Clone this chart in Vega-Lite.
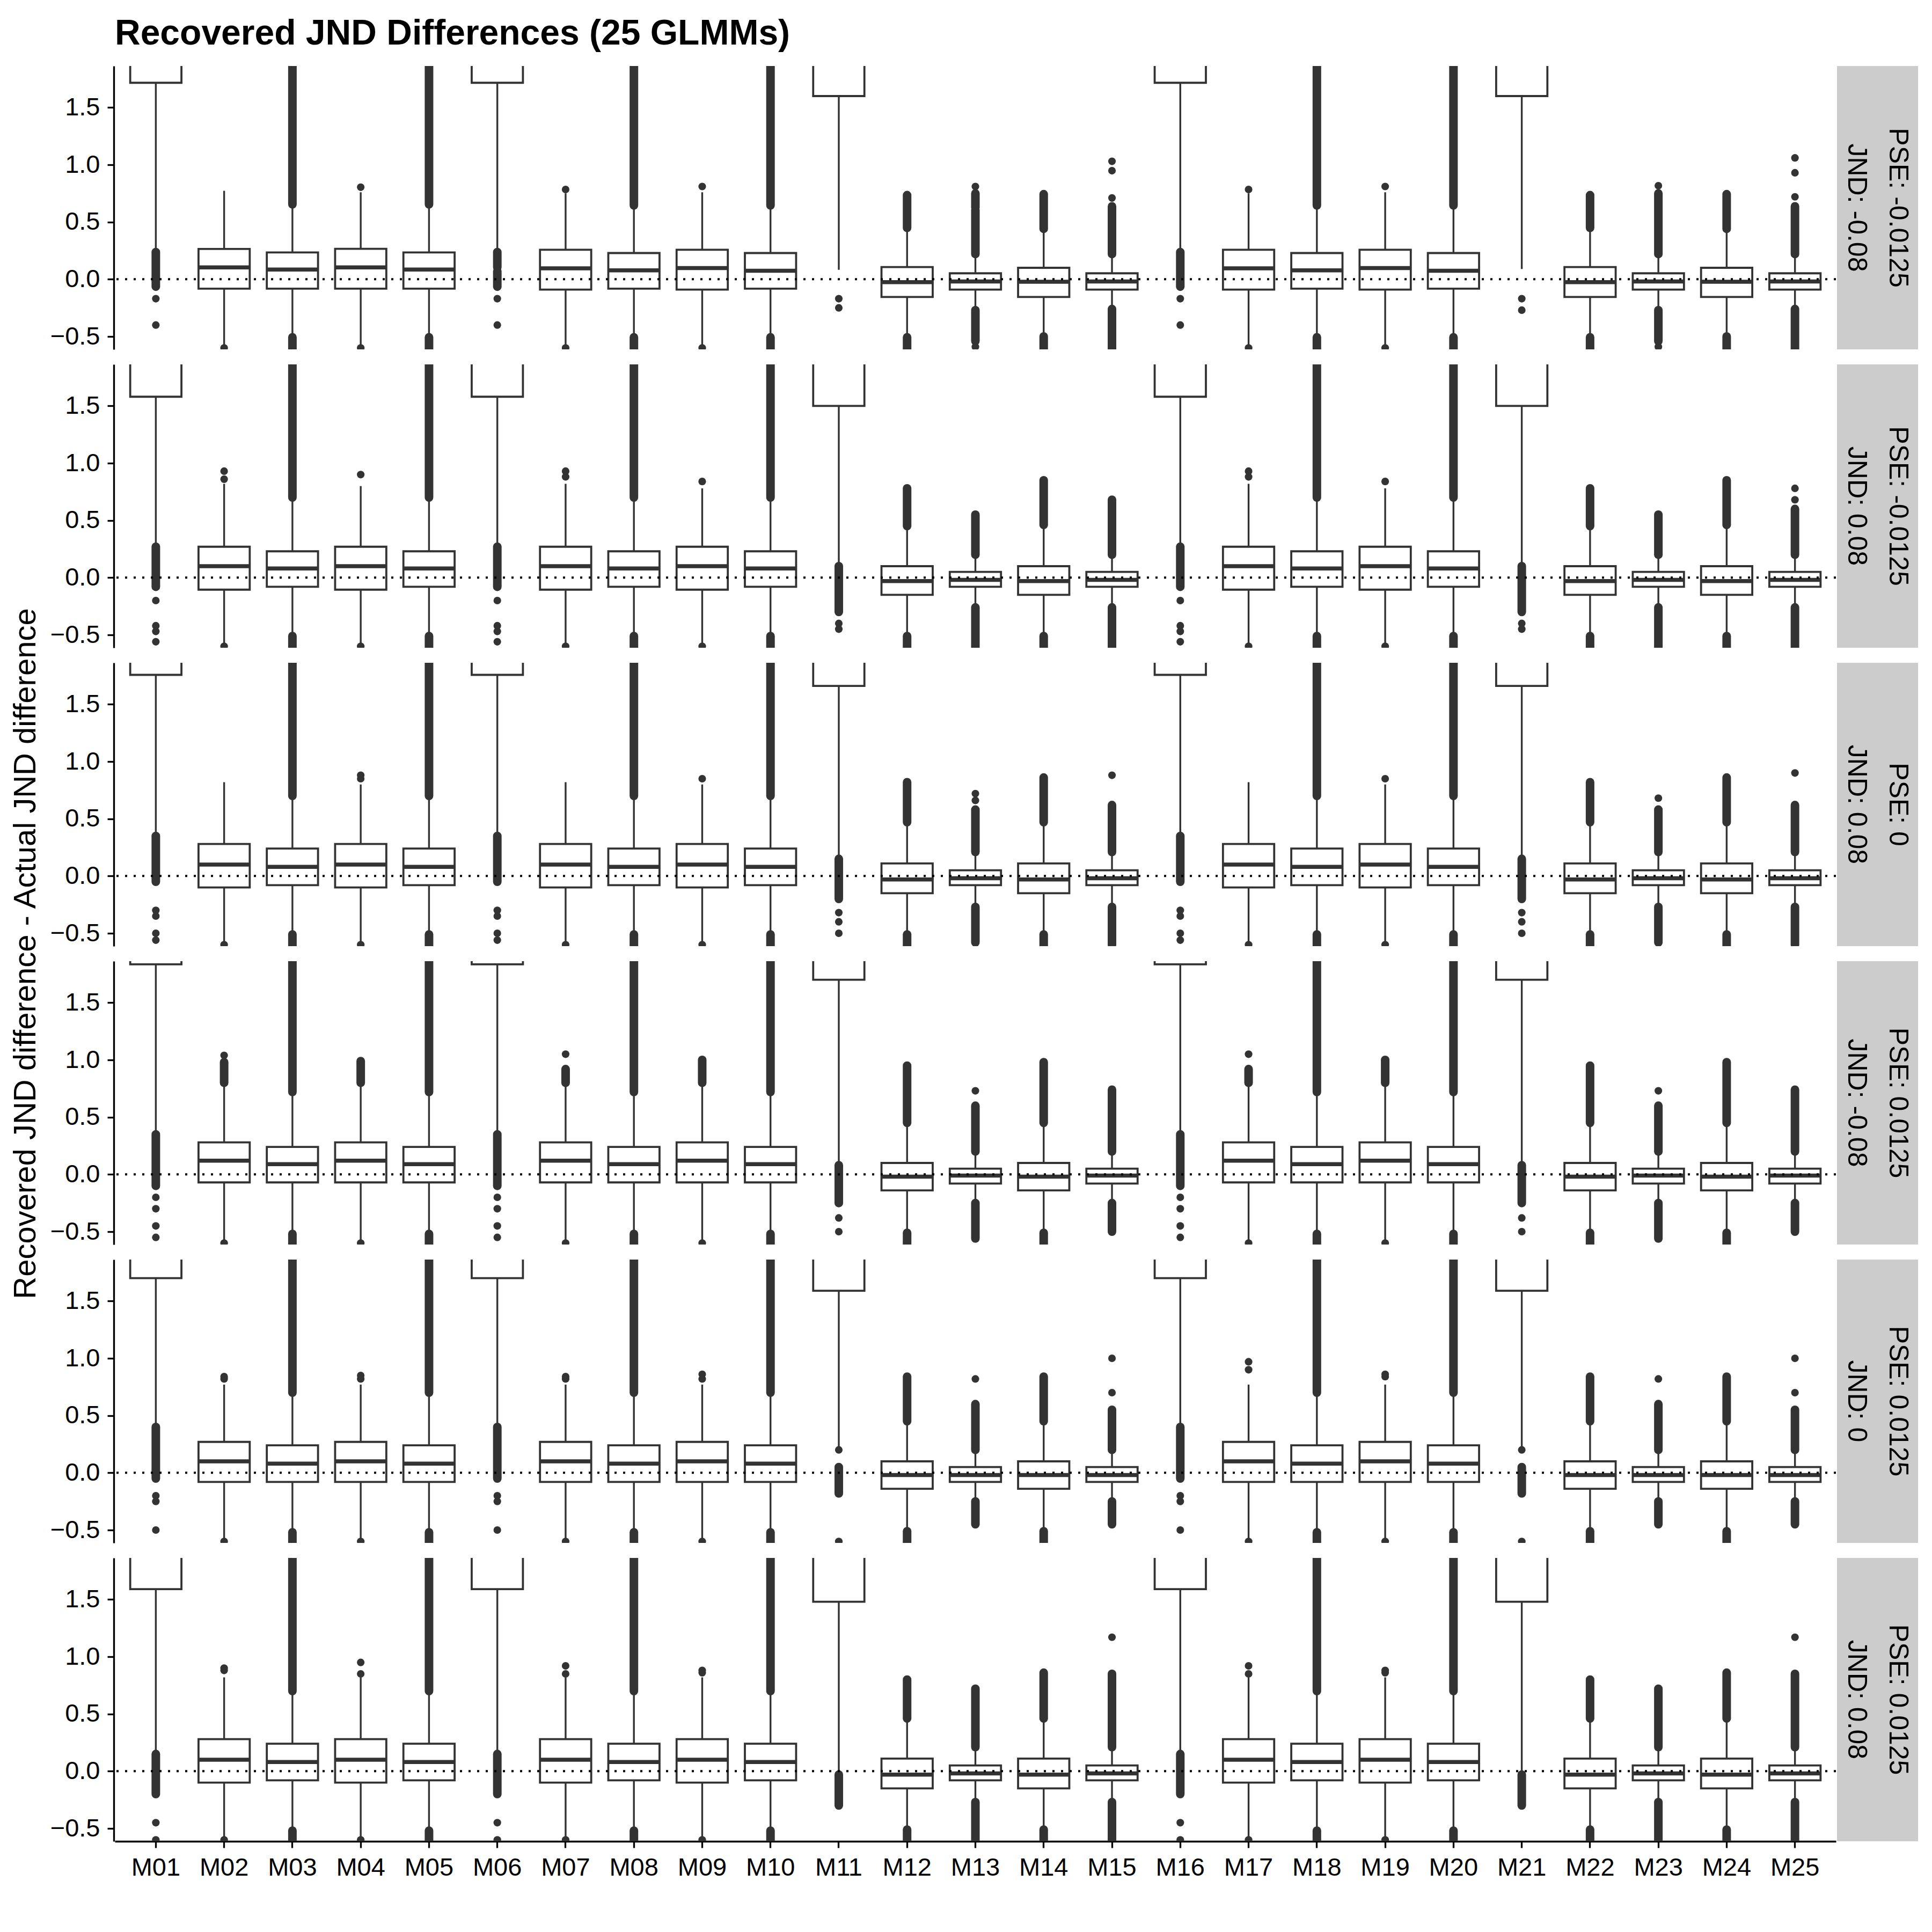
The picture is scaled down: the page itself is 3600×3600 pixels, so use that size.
{
"$schema": "https://vega.github.io/schema/vega-lite/v6.json",
"autosize": {"type": "pad"},
"padding": {"left": 19, "top": 30, "right": 31, "bottom": 10},
"background": "white",
"title": {"text": "Recovered JND Differences (25 GLMMs)", "anchor": "start", "frame": "group", "fontSize": 66, "fontWeight": "bold", "font": "Liberation Sans", "color": "black", "offset": 26},
"data": {"values": [
{"p":1,"m":"M01","k":"b","lo":0.24,"q1":1.716,"md":2.3,"q3":2.7,"hi":4,"lab":"PSE: -0.0125|JND: -0.08"},
{"p":1,"m":"M02","k":"b","lo":-0.57,"q1":-0.082,"md":0.103,"q3":0.265,"hi":0.773},
{"p":1,"m":"M03","k":"b","lo":-0.507,"q1":-0.082,"md":0.085,"q3":0.234,"hi":0.654},
{"p":1,"m":"M04","k":"b","lo":-0.57,"q1":-0.082,"md":0.103,"q3":0.266,"hi":0.76},
{"p":1,"m":"M05","k":"b","lo":-0.507,"q1":-0.082,"md":0.085,"q3":0.234,"hi":0.654},
{"p":1,"m":"M06","k":"b","lo":0.24,"q1":1.716,"md":2.3,"q3":2.7,"hi":4},
{"p":1,"m":"M07","k":"b","lo":-0.57,"q1":-0.09,"md":0.095,"q3":0.258,"hi":0.75},
{"p":1,"m":"M08","k":"b","lo":-0.507,"q1":-0.082,"md":0.078,"q3":0.229,"hi":0.645},
{"p":1,"m":"M09","k":"b","lo":-0.57,"q1":-0.09,"md":0.098,"q3":0.258,"hi":0.76},
{"p":1,"m":"M10","k":"b","lo":-0.507,"q1":-0.082,"md":0.074,"q3":0.229,"hi":0.645},
{"p":1,"m":"M11","k":"b","lo":0.082,"q1":1.6,"md":2.3,"q3":2.7,"hi":4},
{"p":1,"m":"M12","k":"b","lo":-0.507,"q1":-0.155,"md":-0.025,"q3":0.106,"hi":0.449},
{"p":1,"m":"M13","k":"b","lo":-0.27,"q1":-0.09,"md":-0.02,"q3":0.052,"hi":0.22},
{"p":1,"m":"M14","k":"b","lo":-0.5,"q1":-0.155,"md":-0.022,"q3":0.1,"hi":0.44},
{"p":1,"m":"M15","k":"b","lo":-0.26,"q1":-0.09,"md":-0.02,"q3":0.052,"hi":0.22},
{"p":1,"m":"M16","k":"b","lo":0.24,"q1":1.716,"md":2.3,"q3":2.7,"hi":4},
{"p":1,"m":"M17","k":"b","lo":-0.57,"q1":-0.09,"md":0.095,"q3":0.258,"hi":0.75},
{"p":1,"m":"M18","k":"b","lo":-0.507,"q1":-0.082,"md":0.078,"q3":0.229,"hi":0.645},
{"p":1,"m":"M19","k":"b","lo":-0.57,"q1":-0.09,"md":0.098,"q3":0.258,"hi":0.76},
{"p":1,"m":"M20","k":"b","lo":-0.507,"q1":-0.082,"md":0.074,"q3":0.229,"hi":0.645},
{"p":1,"m":"M21","k":"b","lo":0.09,"q1":1.6,"md":2.3,"q3":2.7,"hi":4},
{"p":1,"m":"M22","k":"b","lo":-0.507,"q1":-0.155,"md":-0.025,"q3":0.106,"hi":0.449},
{"p":1,"m":"M23","k":"b","lo":-0.27,"q1":-0.09,"md":-0.02,"q3":0.052,"hi":0.22},
{"p":1,"m":"M24","k":"b","lo":-0.5,"q1":-0.155,"md":-0.022,"q3":0.1,"hi":0.44},
{"p":1,"m":"M25","k":"b","lo":-0.26,"q1":-0.09,"md":-0.02,"q3":0.052,"hi":0.22},
{"p":1,"m":"M01","k":"s","a":0.237,"b":-0.065},
{"p":1,"m":"M03","k":"s","a":0.654,"b":2},
{"p":1,"m":"M03","k":"s","a":-0.507,"b":-0.7},
{"p":1,"m":"M05","k":"s","a":0.654,"b":2},
{"p":1,"m":"M05","k":"s","a":-0.507,"b":-0.7},
{"p":1,"m":"M06","k":"s","a":0.237,"b":0.105},
{"p":1,"m":"M06","k":"s","a":0.07,"b":-0.065},
{"p":1,"m":"M08","k":"s","a":0.645,"b":2},
{"p":1,"m":"M08","k":"s","a":-0.507,"b":-0.7},
{"p":1,"m":"M10","k":"s","a":0.645,"b":2},
{"p":1,"m":"M10","k":"s","a":-0.507,"b":-0.7},
{"p":1,"m":"M12","k":"s","a":0.449,"b":0.735},
{"p":1,"m":"M12","k":"s","a":-0.507,"b":-0.7},
{"p":1,"m":"M13","k":"s","a":0.22,"b":0.605},
{"p":1,"m":"M13","k":"s","a":0.625,"b":0.75},
{"p":1,"m":"M13","k":"s","a":-0.27,"b":-0.54},
{"p":1,"m":"M14","k":"s","a":0.44,"b":0.743},
{"p":1,"m":"M14","k":"s","a":-0.5,"b":-0.7},
{"p":1,"m":"M15","k":"s","a":0.22,"b":0.637},
{"p":1,"m":"M15","k":"s","a":-0.26,"b":-0.7},
{"p":1,"m":"M16","k":"s","a":0.237,"b":-0.065},
{"p":1,"m":"M18","k":"s","a":0.645,"b":2},
{"p":1,"m":"M18","k":"s","a":-0.507,"b":-0.7},
{"p":1,"m":"M20","k":"s","a":0.645,"b":2},
{"p":1,"m":"M20","k":"s","a":-0.507,"b":-0.7},
{"p":1,"m":"M22","k":"s","a":0.449,"b":0.735},
{"p":1,"m":"M22","k":"s","a":-0.507,"b":-0.7},
{"p":1,"m":"M23","k":"s","a":0.22,"b":0.75},
{"p":1,"m":"M23","k":"s","a":-0.27,"b":-0.54},
{"p":1,"m":"M24","k":"s","a":0.44,"b":0.743},
{"p":1,"m":"M24","k":"s","a":-0.5,"b":-0.7},
{"p":1,"m":"M25","k":"s","a":0.22,"b":0.637},
{"p":1,"m":"M25","k":"s","a":-0.26,"b":-0.7},
{"p":1,"m":"M01","k":"d","v":-0.17},{"p":1,"m":"M01","k":"d","v":-0.4},
{"p":1,"m":"M02","k":"d","v":-0.6},
{"p":1,"m":"M04","k":"d","v":0.804},{"p":1,"m":"M04","k":"d","v":-0.6},
{"p":1,"m":"M06","k":"d","v":-0.17},{"p":1,"m":"M06","k":"d","v":-0.4},
{"p":1,"m":"M07","k":"d","v":0.784},{"p":1,"m":"M07","k":"d","v":-0.6},
{"p":1,"m":"M09","k":"d","v":0.81},{"p":1,"m":"M09","k":"d","v":-0.6},
{"p":1,"m":"M11","k":"d","v":-0.17},{"p":1,"m":"M11","k":"d","v":-0.25},
{"p":1,"m":"M13","k":"d","v":0.81},{"p":1,"m":"M13","k":"d","v":-0.59},
{"p":1,"m":"M15","k":"d","v":0.71},{"p":1,"m":"M15","k":"d","v":0.948},{"p":1,"m":"M15","k":"d","v":1.03},
{"p":1,"m":"M16","k":"d","v":-0.17},{"p":1,"m":"M16","k":"d","v":-0.4},
{"p":1,"m":"M17","k":"d","v":0.784},{"p":1,"m":"M17","k":"d","v":-0.6},
{"p":1,"m":"M19","k":"d","v":0.81},{"p":1,"m":"M19","k":"d","v":-0.6},
{"p":1,"m":"M21","k":"d","v":-0.17},{"p":1,"m":"M21","k":"d","v":-0.27},
{"p":1,"m":"M23","k":"d","v":0.817},{"p":1,"m":"M23","k":"d","v":-0.59},
{"p":1,"m":"M25","k":"d","v":0.72},{"p":1,"m":"M25","k":"d","v":0.93},{"p":1,"m":"M25","k":"d","v":1.06},

{"p":2,"m":"M01","k":"b","lo":0.27,"q1":1.58,"md":2.3,"q3":2.7,"hi":4,"lab":"PSE: -0.0125|JND: 0.08"},
{"p":2,"m":"M02","k":"b","lo":-0.57,"q1":-0.105,"md":0.1,"q3":0.27,"hi":0.82},
{"p":2,"m":"M03","k":"b","lo":-0.51,"q1":-0.08,"md":0.08,"q3":0.23,"hi":0.7},
{"p":2,"m":"M04","k":"b","lo":-0.57,"q1":-0.105,"md":0.1,"q3":0.27,"hi":0.8},
{"p":2,"m":"M05","k":"b","lo":-0.51,"q1":-0.08,"md":0.08,"q3":0.23,"hi":0.7},
{"p":2,"m":"M06","k":"b","lo":0.27,"q1":1.58,"md":2.3,"q3":2.7,"hi":4},
{"p":2,"m":"M07","k":"b","lo":-0.57,"q1":-0.105,"md":0.1,"q3":0.27,"hi":0.82},
{"p":2,"m":"M08","k":"b","lo":-0.51,"q1":-0.08,"md":0.08,"q3":0.23,"hi":0.7},
{"p":2,"m":"M09","k":"b","lo":-0.57,"q1":-0.105,"md":0.1,"q3":0.27,"hi":0.78},
{"p":2,"m":"M10","k":"b","lo":-0.51,"q1":-0.08,"md":0.08,"q3":0.23,"hi":0.7},
{"p":2,"m":"M11","k":"b","lo":0.1,"q1":1.5,"md":2.3,"q3":2.7,"hi":4},
{"p":2,"m":"M12","k":"b","lo":-0.51,"q1":-0.15,"md":-0.03,"q3":0.1,"hi":0.45},
{"p":2,"m":"M13","k":"b","lo":-0.26,"q1":-0.08,"md":-0.02,"q3":0.05,"hi":0.2},
{"p":2,"m":"M14","k":"b","lo":-0.51,"q1":-0.15,"md":-0.03,"q3":0.1,"hi":0.46},
{"p":2,"m":"M15","k":"b","lo":-0.26,"q1":-0.08,"md":-0.02,"q3":0.05,"hi":0.2},
{"p":2,"m":"M16","k":"b","lo":0.27,"q1":1.58,"md":2.3,"q3":2.7,"hi":4},
{"p":2,"m":"M17","k":"b","lo":-0.57,"q1":-0.105,"md":0.1,"q3":0.27,"hi":0.82},
{"p":2,"m":"M18","k":"b","lo":-0.51,"q1":-0.08,"md":0.08,"q3":0.23,"hi":0.7},
{"p":2,"m":"M19","k":"b","lo":-0.57,"q1":-0.105,"md":0.1,"q3":0.27,"hi":0.78},
{"p":2,"m":"M20","k":"b","lo":-0.51,"q1":-0.08,"md":0.08,"q3":0.23,"hi":0.7},
{"p":2,"m":"M21","k":"b","lo":0.1,"q1":1.5,"md":2.3,"q3":2.7,"hi":4},
{"p":2,"m":"M22","k":"b","lo":-0.51,"q1":-0.15,"md":-0.03,"q3":0.1,"hi":0.45},
{"p":2,"m":"M23","k":"b","lo":-0.26,"q1":-0.08,"md":-0.02,"q3":0.05,"hi":0.2},
{"p":2,"m":"M24","k":"b","lo":-0.51,"q1":-0.15,"md":-0.03,"q3":0.1,"hi":0.46},
{"p":2,"m":"M25","k":"b","lo":-0.26,"q1":-0.08,"md":-0.02,"q3":0.05,"hi":0.2},
{"p":2,"m":"M01","k":"s","a":0.27,"b":-0.08},
{"p":2,"m":"M03","k":"s","a":0.7,"b":2},{"p":2,"m":"M03","k":"s","a":-0.51,"b":-0.7},
{"p":2,"m":"M05","k":"s","a":0.7,"b":2},{"p":2,"m":"M05","k":"s","a":-0.51,"b":-0.7},
{"p":2,"m":"M06","k":"s","a":0.27,"b":-0.08},
{"p":2,"m":"M08","k":"s","a":0.7,"b":2},{"p":2,"m":"M08","k":"s","a":-0.51,"b":-0.7},
{"p":2,"m":"M10","k":"s","a":0.7,"b":2},{"p":2,"m":"M10","k":"s","a":-0.51,"b":-0.7},
{"p":2,"m":"M11","k":"s","a":0.1,"b":-0.3},
{"p":2,"m":"M12","k":"s","a":0.45,"b":0.78},{"p":2,"m":"M12","k":"s","a":-0.51,"b":-0.7},
{"p":2,"m":"M13","k":"s","a":0.2,"b":0.55},{"p":2,"m":"M13","k":"s","a":-0.26,"b":-0.7},
{"p":2,"m":"M14","k":"s","a":0.46,"b":0.85},{"p":2,"m":"M14","k":"s","a":-0.51,"b":-0.7},
{"p":2,"m":"M15","k":"s","a":0.2,"b":0.68},{"p":2,"m":"M15","k":"s","a":-0.26,"b":-0.7},
{"p":2,"m":"M16","k":"s","a":0.27,"b":-0.08},
{"p":2,"m":"M18","k":"s","a":0.7,"b":2},{"p":2,"m":"M18","k":"s","a":-0.51,"b":-0.7},
{"p":2,"m":"M20","k":"s","a":0.7,"b":2},{"p":2,"m":"M20","k":"s","a":-0.51,"b":-0.7},
{"p":2,"m":"M21","k":"s","a":0.1,"b":-0.3},
{"p":2,"m":"M22","k":"s","a":0.45,"b":0.78},{"p":2,"m":"M22","k":"s","a":-0.51,"b":-0.7},
{"p":2,"m":"M23","k":"s","a":0.2,"b":0.55},{"p":2,"m":"M23","k":"s","a":-0.26,"b":-0.7},
{"p":2,"m":"M24","k":"s","a":0.46,"b":0.85},{"p":2,"m":"M24","k":"s","a":-0.51,"b":-0.7},
{"p":2,"m":"M25","k":"s","a":0.2,"b":0.6},{"p":2,"m":"M25","k":"s","a":-0.26,"b":-0.7},
{"p":2,"m":"M01","k":"d","v":-0.2},{"p":2,"m":"M01","k":"d","v":-0.42},{"p":2,"m":"M01","k":"d","v":-0.47},{"p":2,"m":"M01","k":"d","v":-0.56},
{"p":2,"m":"M02","k":"d","v":0.86},{"p":2,"m":"M02","k":"d","v":0.93},{"p":2,"m":"M02","k":"d","v":-0.6},
{"p":2,"m":"M04","k":"d","v":0.9},{"p":2,"m":"M04","k":"d","v":-0.6},
{"p":2,"m":"M06","k":"d","v":-0.2},{"p":2,"m":"M06","k":"d","v":-0.42},{"p":2,"m":"M06","k":"d","v":-0.47},{"p":2,"m":"M06","k":"d","v":-0.56},
{"p":2,"m":"M07","k":"d","v":0.88},{"p":2,"m":"M07","k":"d","v":0.93},{"p":2,"m":"M07","k":"d","v":-0.6},
{"p":2,"m":"M09","k":"d","v":0.84},{"p":2,"m":"M09","k":"d","v":-0.6},
{"p":2,"m":"M11","k":"d","v":-0.4},{"p":2,"m":"M11","k":"d","v":-0.45},
{"p":2,"m":"M16","k":"d","v":-0.2},{"p":2,"m":"M16","k":"d","v":-0.42},{"p":2,"m":"M16","k":"d","v":-0.47},{"p":2,"m":"M16","k":"d","v":-0.56},
{"p":2,"m":"M17","k":"d","v":0.88},{"p":2,"m":"M17","k":"d","v":0.93},{"p":2,"m":"M17","k":"d","v":-0.6},
{"p":2,"m":"M19","k":"d","v":0.84},{"p":2,"m":"M19","k":"d","v":-0.6},
{"p":2,"m":"M21","k":"d","v":-0.4},{"p":2,"m":"M21","k":"d","v":-0.45},
{"p":2,"m":"M25","k":"d","v":0.68},{"p":2,"m":"M25","k":"d","v":0.78},

{"p":3,"m":"M01","k":"b","lo":0.35,"q1":1.757,"md":2.3,"q3":2.7,"hi":4,"lab":"PSE: 0|JND: 0.08"},
{"p":3,"m":"M02","k":"b","lo":-0.57,"q1":-0.1,"md":0.1,"q3":0.28,"hi":0.82},
{"p":3,"m":"M03","k":"b","lo":-0.51,"q1":-0.08,"md":0.08,"q3":0.24,"hi":0.7},
{"p":3,"m":"M04","k":"b","lo":-0.57,"q1":-0.1,"md":0.1,"q3":0.28,"hi":0.8},
{"p":3,"m":"M05","k":"b","lo":-0.51,"q1":-0.08,"md":0.08,"q3":0.24,"hi":0.7},
{"p":3,"m":"M06","k":"b","lo":0.35,"q1":1.757,"md":2.3,"q3":2.7,"hi":4},
{"p":3,"m":"M07","k":"b","lo":-0.57,"q1":-0.1,"md":0.1,"q3":0.28,"hi":0.82},
{"p":3,"m":"M08","k":"b","lo":-0.51,"q1":-0.08,"md":0.08,"q3":0.24,"hi":0.7},
{"p":3,"m":"M09","k":"b","lo":-0.57,"q1":-0.1,"md":0.1,"q3":0.28,"hi":0.8},
{"p":3,"m":"M10","k":"b","lo":-0.51,"q1":-0.08,"md":0.08,"q3":0.24,"hi":0.7},
{"p":3,"m":"M11","k":"b","lo":0.15,"q1":1.66,"md":2.3,"q3":2.7,"hi":4},
{"p":3,"m":"M12","k":"b","lo":-0.51,"q1":-0.15,"md":-0.03,"q3":0.11,"hi":0.47},
{"p":3,"m":"M13","k":"b","lo":-0.27,"q1":-0.08,"md":-0.02,"q3":0.05,"hi":0.21},
{"p":3,"m":"M14","k":"b","lo":-0.51,"q1":-0.15,"md":-0.03,"q3":0.11,"hi":0.47},
{"p":3,"m":"M15","k":"b","lo":-0.27,"q1":-0.08,"md":-0.02,"q3":0.05,"hi":0.21},
{"p":3,"m":"M16","k":"b","lo":0.35,"q1":1.757,"md":2.3,"q3":2.7,"hi":4},
{"p":3,"m":"M17","k":"b","lo":-0.57,"q1":-0.1,"md":0.1,"q3":0.28,"hi":0.82},
{"p":3,"m":"M18","k":"b","lo":-0.51,"q1":-0.08,"md":0.08,"q3":0.24,"hi":0.7},
{"p":3,"m":"M19","k":"b","lo":-0.57,"q1":-0.1,"md":0.1,"q3":0.28,"hi":0.8},
{"p":3,"m":"M20","k":"b","lo":-0.51,"q1":-0.08,"md":0.08,"q3":0.24,"hi":0.7},
{"p":3,"m":"M21","k":"b","lo":0.15,"q1":1.66,"md":2.3,"q3":2.7,"hi":4},
{"p":3,"m":"M22","k":"b","lo":-0.51,"q1":-0.15,"md":-0.03,"q3":0.11,"hi":0.47},
{"p":3,"m":"M23","k":"b","lo":-0.27,"q1":-0.08,"md":-0.02,"q3":0.05,"hi":0.21},
{"p":3,"m":"M24","k":"b","lo":-0.51,"q1":-0.15,"md":-0.03,"q3":0.11,"hi":0.47},
{"p":3,"m":"M25","k":"b","lo":-0.27,"q1":-0.08,"md":-0.02,"q3":0.05,"hi":0.21},
{"p":3,"m":"M01","k":"s","a":0.35,"b":-0.05},
{"p":3,"m":"M03","k":"s","a":0.7,"b":2},{"p":3,"m":"M03","k":"s","a":-0.51,"b":-0.7},
{"p":3,"m":"M05","k":"s","a":0.7,"b":2},{"p":3,"m":"M05","k":"s","a":-0.51,"b":-0.7},
{"p":3,"m":"M06","k":"s","a":0.35,"b":-0.05},
{"p":3,"m":"M08","k":"s","a":0.7,"b":2},{"p":3,"m":"M08","k":"s","a":-0.51,"b":-0.7},
{"p":3,"m":"M10","k":"s","a":0.7,"b":2},{"p":3,"m":"M10","k":"s","a":-0.51,"b":-0.7},
{"p":3,"m":"M11","k":"s","a":0.15,"b":-0.2},
{"p":3,"m":"M12","k":"s","a":0.47,"b":0.82},{"p":3,"m":"M12","k":"s","a":-0.51,"b":-0.7},
{"p":3,"m":"M13","k":"s","a":0.21,"b":0.58},{"p":3,"m":"M13","k":"s","a":-0.27,"b":-0.58},
{"p":3,"m":"M14","k":"s","a":0.47,"b":0.86},{"p":3,"m":"M14","k":"s","a":-0.51,"b":-0.7},
{"p":3,"m":"M15","k":"s","a":0.21,"b":0.62},{"p":3,"m":"M15","k":"s","a":-0.27,"b":-0.6},
{"p":3,"m":"M16","k":"s","a":0.35,"b":-0.05},
{"p":3,"m":"M18","k":"s","a":0.7,"b":2},{"p":3,"m":"M18","k":"s","a":-0.51,"b":-0.7},
{"p":3,"m":"M20","k":"s","a":0.7,"b":2},{"p":3,"m":"M20","k":"s","a":-0.51,"b":-0.7},
{"p":3,"m":"M21","k":"s","a":0.15,"b":-0.2},
{"p":3,"m":"M22","k":"s","a":0.47,"b":0.82},{"p":3,"m":"M22","k":"s","a":-0.51,"b":-0.7},
{"p":3,"m":"M23","k":"s","a":0.21,"b":0.58},{"p":3,"m":"M23","k":"s","a":-0.27,"b":-0.58},
{"p":3,"m":"M24","k":"s","a":0.47,"b":0.86},{"p":3,"m":"M24","k":"s","a":-0.51,"b":-0.7},
{"p":3,"m":"M25","k":"s","a":0.21,"b":0.62},{"p":3,"m":"M25","k":"s","a":-0.27,"b":-0.6},
{"p":3,"m":"M01","k":"d","v":-0.3},{"p":3,"m":"M01","k":"d","v":-0.35},{"p":3,"m":"M01","k":"d","v":-0.5},{"p":3,"m":"M01","k":"d","v":-0.56},
{"p":3,"m":"M02","k":"d","v":-0.6},
{"p":3,"m":"M04","k":"d","v":0.85},{"p":3,"m":"M04","k":"d","v":0.88},{"p":3,"m":"M04","k":"d","v":-0.6},
{"p":3,"m":"M06","k":"d","v":-0.3},{"p":3,"m":"M06","k":"d","v":-0.35},{"p":3,"m":"M06","k":"d","v":-0.5},{"p":3,"m":"M06","k":"d","v":-0.56},
{"p":3,"m":"M07","k":"d","v":-0.6},
{"p":3,"m":"M09","k":"d","v":0.85},{"p":3,"m":"M09","k":"d","v":-0.6},
{"p":3,"m":"M11","k":"d","v":-0.32},{"p":3,"m":"M11","k":"d","v":-0.4},{"p":3,"m":"M11","k":"d","v":-0.5},
{"p":3,"m":"M13","k":"d","v":0.66},{"p":3,"m":"M13","k":"d","v":0.72},
{"p":3,"m":"M15","k":"d","v":0.88},
{"p":3,"m":"M16","k":"d","v":-0.3},{"p":3,"m":"M16","k":"d","v":-0.35},{"p":3,"m":"M16","k":"d","v":-0.5},{"p":3,"m":"M16","k":"d","v":-0.56},
{"p":3,"m":"M17","k":"d","v":-0.6},
{"p":3,"m":"M19","k":"d","v":0.85},{"p":3,"m":"M19","k":"d","v":-0.6},
{"p":3,"m":"M21","k":"d","v":-0.32},{"p":3,"m":"M21","k":"d","v":-0.4},{"p":3,"m":"M21","k":"d","v":-0.5},
{"p":3,"m":"M23","k":"d","v":0.68},
{"p":3,"m":"M25","k":"d","v":0.9},

{"p":4,"m":"M01","k":"b","lo":0.35,"q1":1.835,"md":2.3,"q3":2.7,"hi":4,"lab":"PSE: 0.0125|JND: -0.08"},
{"p":4,"m":"M02","k":"b","lo":-0.57,"q1":-0.07,"md":0.12,"q3":0.28,"hi":0.78},
{"p":4,"m":"M03","k":"b","lo":-0.52,"q1":-0.07,"md":0.09,"q3":0.24,"hi":0.72},
{"p":4,"m":"M04","k":"b","lo":-0.57,"q1":-0.07,"md":0.12,"q3":0.28,"hi":0.78},
{"p":4,"m":"M05","k":"b","lo":-0.52,"q1":-0.07,"md":0.09,"q3":0.24,"hi":0.72},
{"p":4,"m":"M06","k":"b","lo":0.35,"q1":1.835,"md":2.3,"q3":2.7,"hi":4},
{"p":4,"m":"M07","k":"b","lo":-0.57,"q1":-0.07,"md":0.12,"q3":0.28,"hi":0.78},
{"p":4,"m":"M08","k":"b","lo":-0.52,"q1":-0.07,"md":0.09,"q3":0.24,"hi":0.72},
{"p":4,"m":"M09","k":"b","lo":-0.57,"q1":-0.07,"md":0.12,"q3":0.28,"hi":0.78},
{"p":4,"m":"M10","k":"b","lo":-0.52,"q1":-0.07,"md":0.09,"q3":0.24,"hi":0.72},
{"p":4,"m":"M11","k":"b","lo":0.1,"q1":1.7,"md":2.3,"q3":2.7,"hi":4},
{"p":4,"m":"M12","k":"b","lo":-0.51,"q1":-0.14,"md":-0.02,"q3":0.1,"hi":0.45},
{"p":4,"m":"M13","k":"b","lo":-0.25,"q1":-0.08,"md":-0.01,"q3":0.05,"hi":0.2},
{"p":4,"m":"M14","k":"b","lo":-0.51,"q1":-0.14,"md":-0.02,"q3":0.1,"hi":0.45},
{"p":4,"m":"M15","k":"b","lo":-0.25,"q1":-0.08,"md":-0.01,"q3":0.05,"hi":0.2},
{"p":4,"m":"M16","k":"b","lo":0.35,"q1":1.835,"md":2.3,"q3":2.7,"hi":4},
{"p":4,"m":"M17","k":"b","lo":-0.57,"q1":-0.07,"md":0.12,"q3":0.28,"hi":0.78},
{"p":4,"m":"M18","k":"b","lo":-0.52,"q1":-0.07,"md":0.09,"q3":0.24,"hi":0.72},
{"p":4,"m":"M19","k":"b","lo":-0.57,"q1":-0.07,"md":0.12,"q3":0.28,"hi":0.78},
{"p":4,"m":"M20","k":"b","lo":-0.52,"q1":-0.07,"md":0.09,"q3":0.24,"hi":0.72},
{"p":4,"m":"M21","k":"b","lo":0.1,"q1":1.7,"md":2.3,"q3":2.7,"hi":4},
{"p":4,"m":"M22","k":"b","lo":-0.51,"q1":-0.14,"md":-0.02,"q3":0.1,"hi":0.45},
{"p":4,"m":"M23","k":"b","lo":-0.25,"q1":-0.08,"md":-0.01,"q3":0.05,"hi":0.2},
{"p":4,"m":"M24","k":"b","lo":-0.51,"q1":-0.14,"md":-0.02,"q3":0.1,"hi":0.45},
{"p":4,"m":"M25","k":"b","lo":-0.25,"q1":-0.08,"md":-0.01,"q3":0.05,"hi":0.2},
{"p":4,"m":"M01","k":"s","a":0.35,"b":-0.1},
{"p":4,"m":"M02","k":"s","a":0.8,"b":0.98},
{"p":4,"m":"M03","k":"s","a":0.72,"b":2},{"p":4,"m":"M03","k":"s","a":-0.52,"b":-0.7},
{"p":4,"m":"M04","k":"s","a":0.8,"b":0.99},
{"p":4,"m":"M05","k":"s","a":0.72,"b":2},{"p":4,"m":"M05","k":"s","a":-0.52,"b":-0.7},
{"p":4,"m":"M06","k":"s","a":0.35,"b":-0.1},
{"p":4,"m":"M07","k":"s","a":0.8,"b":0.92},
{"p":4,"m":"M08","k":"s","a":0.72,"b":2},{"p":4,"m":"M08","k":"s","a":-0.52,"b":-0.7},
{"p":4,"m":"M09","k":"s","a":0.8,"b":1.0},
{"p":4,"m":"M10","k":"s","a":0.72,"b":2},{"p":4,"m":"M10","k":"s","a":-0.52,"b":-0.7},
{"p":4,"m":"M11","k":"s","a":0.08,"b":-0.25},
{"p":4,"m":"M12","k":"s","a":0.45,"b":0.95},{"p":4,"m":"M12","k":"s","a":-0.51,"b":-0.7},
{"p":4,"m":"M13","k":"s","a":0.2,"b":0.6},{"p":4,"m":"M13","k":"s","a":-0.25,"b":-0.56},
{"p":4,"m":"M14","k":"s","a":0.45,"b":0.98},{"p":4,"m":"M14","k":"s","a":-0.51,"b":-0.7},
{"p":4,"m":"M15","k":"s","a":0.2,"b":0.74},{"p":4,"m":"M15","k":"s","a":-0.25,"b":-0.5},
{"p":4,"m":"M16","k":"s","a":0.35,"b":-0.1},
{"p":4,"m":"M17","k":"s","a":0.8,"b":0.92},
{"p":4,"m":"M18","k":"s","a":0.72,"b":2},{"p":4,"m":"M18","k":"s","a":-0.52,"b":-0.7},
{"p":4,"m":"M19","k":"s","a":0.8,"b":1.0},
{"p":4,"m":"M20","k":"s","a":0.72,"b":2},{"p":4,"m":"M20","k":"s","a":-0.52,"b":-0.7},
{"p":4,"m":"M21","k":"s","a":0.08,"b":-0.25},
{"p":4,"m":"M22","k":"s","a":0.45,"b":0.95},{"p":4,"m":"M22","k":"s","a":-0.51,"b":-0.7},
{"p":4,"m":"M23","k":"s","a":0.2,"b":0.6},{"p":4,"m":"M23","k":"s","a":-0.25,"b":-0.56},
{"p":4,"m":"M24","k":"s","a":0.45,"b":0.98},{"p":4,"m":"M24","k":"s","a":-0.51,"b":-0.7},
{"p":4,"m":"M25","k":"s","a":0.2,"b":0.74},{"p":4,"m":"M25","k":"s","a":-0.25,"b":-0.5},
{"p":4,"m":"M01","k":"d","v":-0.2},{"p":4,"m":"M01","k":"d","v":-0.3},{"p":4,"m":"M01","k":"d","v":-0.45},{"p":4,"m":"M01","k":"d","v":-0.55},
{"p":4,"m":"M02","k":"d","v":1.04},{"p":4,"m":"M02","k":"d","v":-0.6},
{"p":4,"m":"M04","k":"d","v":-0.6},
{"p":4,"m":"M06","k":"d","v":-0.2},{"p":4,"m":"M06","k":"d","v":-0.3},{"p":4,"m":"M06","k":"d","v":-0.45},{"p":4,"m":"M06","k":"d","v":-0.55},
{"p":4,"m":"M07","k":"d","v":1.05},{"p":4,"m":"M07","k":"d","v":-0.6},
{"p":4,"m":"M09","k":"d","v":-0.6},
{"p":4,"m":"M11","k":"d","v":-0.38},{"p":4,"m":"M11","k":"d","v":-0.5},
{"p":4,"m":"M13","k":"d","v":0.73},
{"p":4,"m":"M16","k":"d","v":-0.2},{"p":4,"m":"M16","k":"d","v":-0.3},{"p":4,"m":"M16","k":"d","v":-0.45},{"p":4,"m":"M16","k":"d","v":-0.55},
{"p":4,"m":"M17","k":"d","v":1.05},{"p":4,"m":"M17","k":"d","v":-0.6},
{"p":4,"m":"M19","k":"d","v":-0.6},
{"p":4,"m":"M21","k":"d","v":-0.38},{"p":4,"m":"M21","k":"d","v":-0.5},
{"p":4,"m":"M23","k":"d","v":0.73},

{"p":5,"m":"M01","k":"b","lo":0.4,"q1":1.7,"md":2.3,"q3":2.7,"hi":4,"lab":"PSE: 0.0125|JND: 0"},
{"p":5,"m":"M02","k":"b","lo":-0.57,"q1":-0.08,"md":0.1,"q3":0.27,"hi":0.77},
{"p":5,"m":"M03","k":"b","lo":-0.52,"q1":-0.08,"md":0.08,"q3":0.24,"hi":0.7},
{"p":5,"m":"M04","k":"b","lo":-0.57,"q1":-0.08,"md":0.1,"q3":0.27,"hi":0.77},
{"p":5,"m":"M05","k":"b","lo":-0.52,"q1":-0.08,"md":0.08,"q3":0.24,"hi":0.7},
{"p":5,"m":"M06","k":"b","lo":0.4,"q1":1.7,"md":2.3,"q3":2.7,"hi":4},
{"p":5,"m":"M07","k":"b","lo":-0.57,"q1":-0.08,"md":0.1,"q3":0.27,"hi":0.77},
{"p":5,"m":"M08","k":"b","lo":-0.52,"q1":-0.08,"md":0.08,"q3":0.24,"hi":0.7},
{"p":5,"m":"M09","k":"b","lo":-0.57,"q1":-0.08,"md":0.1,"q3":0.27,"hi":0.77},
{"p":5,"m":"M10","k":"b","lo":-0.52,"q1":-0.08,"md":0.08,"q3":0.24,"hi":0.7},
{"p":5,"m":"M11","k":"b","lo":0.2,"q1":1.59,"md":2.3,"q3":2.7,"hi":4},
{"p":5,"m":"M12","k":"b","lo":-0.51,"q1":-0.14,"md":-0.02,"q3":0.1,"hi":0.45},
{"p":5,"m":"M13","k":"b","lo":-0.25,"q1":-0.08,"md":-0.02,"q3":0.05,"hi":0.2},
{"p":5,"m":"M14","k":"b","lo":-0.51,"q1":-0.14,"md":-0.02,"q3":0.1,"hi":0.45},
{"p":5,"m":"M15","k":"b","lo":-0.25,"q1":-0.08,"md":-0.02,"q3":0.05,"hi":0.2},
{"p":5,"m":"M16","k":"b","lo":0.4,"q1":1.7,"md":2.3,"q3":2.7,"hi":4},
{"p":5,"m":"M17","k":"b","lo":-0.57,"q1":-0.08,"md":0.1,"q3":0.27,"hi":0.77},
{"p":5,"m":"M18","k":"b","lo":-0.52,"q1":-0.08,"md":0.08,"q3":0.24,"hi":0.7},
{"p":5,"m":"M19","k":"b","lo":-0.57,"q1":-0.08,"md":0.1,"q3":0.27,"hi":0.77},
{"p":5,"m":"M20","k":"b","lo":-0.52,"q1":-0.08,"md":0.08,"q3":0.24,"hi":0.7},
{"p":5,"m":"M21","k":"b","lo":0.2,"q1":1.59,"md":2.3,"q3":2.7,"hi":4},
{"p":5,"m":"M22","k":"b","lo":-0.51,"q1":-0.14,"md":-0.02,"q3":0.1,"hi":0.45},
{"p":5,"m":"M23","k":"b","lo":-0.25,"q1":-0.08,"md":-0.02,"q3":0.05,"hi":0.2},
{"p":5,"m":"M24","k":"b","lo":-0.51,"q1":-0.14,"md":-0.02,"q3":0.1,"hi":0.45},
{"p":5,"m":"M25","k":"b","lo":-0.25,"q1":-0.08,"md":-0.02,"q3":0.05,"hi":0.2},
{"p":5,"m":"M01","k":"s","a":0.4,"b":-0.05},
{"p":5,"m":"M03","k":"s","a":0.7,"b":2},{"p":5,"m":"M03","k":"s","a":-0.52,"b":-0.7},
{"p":5,"m":"M05","k":"s","a":0.7,"b":2},{"p":5,"m":"M05","k":"s","a":-0.52,"b":-0.7},
{"p":5,"m":"M06","k":"s","a":0.4,"b":-0.05},
{"p":5,"m":"M08","k":"s","a":0.7,"b":2},{"p":5,"m":"M08","k":"s","a":-0.52,"b":-0.7},
{"p":5,"m":"M10","k":"s","a":0.7,"b":2},{"p":5,"m":"M10","k":"s","a":-0.52,"b":-0.7},
{"p":5,"m":"M11","k":"s","a":0.05,"b":-0.18},
{"p":5,"m":"M12","k":"s","a":0.45,"b":0.84},{"p":5,"m":"M12","k":"s","a":-0.51,"b":-0.7},
{"p":5,"m":"M13","k":"s","a":0.2,"b":0.6},{"p":5,"m":"M13","k":"s","a":-0.25,"b":-0.45},
{"p":5,"m":"M14","k":"s","a":0.45,"b":0.84},{"p":5,"m":"M14","k":"s","a":-0.51,"b":-0.7},
{"p":5,"m":"M15","k":"s","a":0.2,"b":0.55},{"p":5,"m":"M15","k":"s","a":-0.25,"b":-0.45},
{"p":5,"m":"M16","k":"s","a":0.4,"b":-0.05},
{"p":5,"m":"M18","k":"s","a":0.7,"b":2},{"p":5,"m":"M18","k":"s","a":-0.52,"b":-0.7},
{"p":5,"m":"M20","k":"s","a":0.7,"b":2},{"p":5,"m":"M20","k":"s","a":-0.52,"b":-0.7},
{"p":5,"m":"M21","k":"s","a":0.05,"b":-0.18},
{"p":5,"m":"M22","k":"s","a":0.45,"b":0.84},{"p":5,"m":"M22","k":"s","a":-0.51,"b":-0.7},
{"p":5,"m":"M23","k":"s","a":0.2,"b":0.6},{"p":5,"m":"M23","k":"s","a":-0.25,"b":-0.45},
{"p":5,"m":"M24","k":"s","a":0.45,"b":0.84},{"p":5,"m":"M24","k":"s","a":-0.51,"b":-0.7},
{"p":5,"m":"M25","k":"s","a":0.2,"b":0.55},{"p":5,"m":"M25","k":"s","a":-0.25,"b":-0.45},
{"p":5,"m":"M01","k":"d","v":-0.2},{"p":5,"m":"M01","k":"d","v":-0.25},{"p":5,"m":"M01","k":"d","v":-0.5},
{"p":5,"m":"M02","k":"d","v":0.82},{"p":5,"m":"M02","k":"d","v":0.84},{"p":5,"m":"M02","k":"d","v":-0.6},
{"p":5,"m":"M04","k":"d","v":0.82},{"p":5,"m":"M04","k":"d","v":0.85},{"p":5,"m":"M04","k":"d","v":-0.6},
{"p":5,"m":"M06","k":"d","v":-0.2},{"p":5,"m":"M06","k":"d","v":-0.25},{"p":5,"m":"M06","k":"d","v":-0.5},
{"p":5,"m":"M07","k":"d","v":0.82},{"p":5,"m":"M07","k":"d","v":0.84},{"p":5,"m":"M07","k":"d","v":-0.6},
{"p":5,"m":"M09","k":"d","v":0.82},{"p":5,"m":"M09","k":"d","v":0.86},{"p":5,"m":"M09","k":"d","v":-0.6},
{"p":5,"m":"M11","k":"d","v":0.2},{"p":5,"m":"M11","k":"d","v":-0.6},
{"p":5,"m":"M13","k":"d","v":0.82},
{"p":5,"m":"M15","k":"d","v":0.7},{"p":5,"m":"M15","k":"d","v":1.0},
{"p":5,"m":"M16","k":"d","v":-0.2},{"p":5,"m":"M16","k":"d","v":-0.25},{"p":5,"m":"M16","k":"d","v":-0.5},
{"p":5,"m":"M17","k":"d","v":0.9},{"p":5,"m":"M17","k":"d","v":0.97},{"p":5,"m":"M17","k":"d","v":-0.6},
{"p":5,"m":"M19","k":"d","v":0.84},{"p":5,"m":"M19","k":"d","v":0.86},{"p":5,"m":"M19","k":"d","v":-0.6},
{"p":5,"m":"M21","k":"d","v":0.2},{"p":5,"m":"M21","k":"d","v":-0.6},
{"p":5,"m":"M23","k":"d","v":0.82},
{"p":5,"m":"M25","k":"d","v":0.7},{"p":5,"m":"M25","k":"d","v":1.0},

{"p":6,"m":"M01","k":"b","lo":0.15,"q1":1.59,"md":2.3,"q3":2.7,"hi":4,"lab":"PSE: 0.0125|JND: 0.08"},
{"p":6,"m":"M02","k":"b","lo":-0.57,"q1":-0.1,"md":0.1,"q3":0.28,"hi":0.82},
{"p":6,"m":"M03","k":"b","lo":-0.52,"q1":-0.08,"md":0.08,"q3":0.24,"hi":0.7},
{"p":6,"m":"M04","k":"b","lo":-0.57,"q1":-0.1,"md":0.1,"q3":0.28,"hi":0.82},
{"p":6,"m":"M05","k":"b","lo":-0.52,"q1":-0.08,"md":0.08,"q3":0.24,"hi":0.7},
{"p":6,"m":"M06","k":"b","lo":0.15,"q1":1.59,"md":2.3,"q3":2.7,"hi":4},
{"p":6,"m":"M07","k":"b","lo":-0.57,"q1":-0.1,"md":0.1,"q3":0.28,"hi":0.82},
{"p":6,"m":"M08","k":"b","lo":-0.52,"q1":-0.08,"md":0.08,"q3":0.24,"hi":0.7},
{"p":6,"m":"M09","k":"b","lo":-0.57,"q1":-0.1,"md":0.1,"q3":0.28,"hi":0.82},
{"p":6,"m":"M10","k":"b","lo":-0.52,"q1":-0.08,"md":0.08,"q3":0.24,"hi":0.7},
{"p":6,"m":"M11","k":"b","lo":-0.03,"q1":1.48,"md":2.3,"q3":2.7,"hi":4},
{"p":6,"m":"M12","k":"b","lo":-0.51,"q1":-0.15,"md":-0.03,"q3":0.11,"hi":0.46},
{"p":6,"m":"M13","k":"b","lo":-0.27,"q1":-0.08,"md":-0.02,"q3":0.05,"hi":0.21},
{"p":6,"m":"M14","k":"b","lo":-0.51,"q1":-0.15,"md":-0.03,"q3":0.11,"hi":0.46},
{"p":6,"m":"M15","k":"b","lo":-0.27,"q1":-0.08,"md":-0.02,"q3":0.05,"hi":0.21},
{"p":6,"m":"M16","k":"b","lo":0.15,"q1":1.59,"md":2.3,"q3":2.7,"hi":4},
{"p":6,"m":"M17","k":"b","lo":-0.57,"q1":-0.1,"md":0.1,"q3":0.28,"hi":0.82},
{"p":6,"m":"M18","k":"b","lo":-0.52,"q1":-0.08,"md":0.08,"q3":0.24,"hi":0.7},
{"p":6,"m":"M19","k":"b","lo":-0.57,"q1":-0.1,"md":0.1,"q3":0.28,"hi":0.82},
{"p":6,"m":"M20","k":"b","lo":-0.52,"q1":-0.08,"md":0.08,"q3":0.24,"hi":0.7},
{"p":6,"m":"M21","k":"b","lo":-0.03,"q1":1.48,"md":2.3,"q3":2.7,"hi":4},
{"p":6,"m":"M22","k":"b","lo":-0.51,"q1":-0.15,"md":-0.03,"q3":0.11,"hi":0.46},
{"p":6,"m":"M23","k":"b","lo":-0.27,"q1":-0.08,"md":-0.02,"q3":0.05,"hi":0.21},
{"p":6,"m":"M24","k":"b","lo":-0.51,"q1":-0.15,"md":-0.03,"q3":0.11,"hi":0.46},
{"p":6,"m":"M25","k":"b","lo":-0.27,"q1":-0.08,"md":-0.02,"q3":0.05,"hi":0.21},
{"p":6,"m":"M01","k":"s","a":0.15,"b":-0.2},
{"p":6,"m":"M03","k":"s","a":0.7,"b":2},{"p":6,"m":"M03","k":"s","a":-0.52,"b":-0.7},
{"p":6,"m":"M05","k":"s","a":0.7,"b":2},{"p":6,"m":"M05","k":"s","a":-0.52,"b":-0.7},
{"p":6,"m":"M06","k":"s","a":0.15,"b":-0.2},
{"p":6,"m":"M08","k":"s","a":0.7,"b":2},{"p":6,"m":"M08","k":"s","a":-0.52,"b":-0.7},
{"p":6,"m":"M10","k":"s","a":0.7,"b":2},{"p":6,"m":"M10","k":"s","a":-0.52,"b":-0.7},
{"p":6,"m":"M11","k":"s","a":-0.03,"b":-0.3},
{"p":6,"m":"M12","k":"s","a":0.46,"b":0.8},{"p":6,"m":"M12","k":"s","a":-0.51,"b":-0.7},
{"p":6,"m":"M13","k":"s","a":0.21,"b":0.72},{"p":6,"m":"M13","k":"s","a":-0.27,"b":-0.7},
{"p":6,"m":"M14","k":"s","a":0.46,"b":0.86},{"p":6,"m":"M14","k":"s","a":-0.51,"b":-0.7},
{"p":6,"m":"M15","k":"s","a":0.21,"b":0.85},{"p":6,"m":"M15","k":"s","a":-0.27,"b":-0.7},
{"p":6,"m":"M16","k":"s","a":0.15,"b":-0.2},
{"p":6,"m":"M18","k":"s","a":0.7,"b":2},{"p":6,"m":"M18","k":"s","a":-0.52,"b":-0.7},
{"p":6,"m":"M20","k":"s","a":0.7,"b":2},{"p":6,"m":"M20","k":"s","a":-0.52,"b":-0.7},
{"p":6,"m":"M21","k":"s","a":-0.03,"b":-0.3},
{"p":6,"m":"M22","k":"s","a":0.46,"b":0.8},{"p":6,"m":"M22","k":"s","a":-0.51,"b":-0.7},
{"p":6,"m":"M23","k":"s","a":0.21,"b":0.72},{"p":6,"m":"M23","k":"s","a":-0.27,"b":-0.7},
{"p":6,"m":"M24","k":"s","a":0.46,"b":0.86},{"p":6,"m":"M24","k":"s","a":-0.51,"b":-0.7},
{"p":6,"m":"M25","k":"s","a":0.21,"b":0.85},{"p":6,"m":"M25","k":"s","a":-0.27,"b":-0.7},
{"p":6,"m":"M01","k":"d","v":-0.45},{"p":6,"m":"M01","k":"d","v":-0.6},
{"p":6,"m":"M02","k":"d","v":0.88},{"p":6,"m":"M02","k":"d","v":0.9},{"p":6,"m":"M02","k":"d","v":-0.6},
{"p":6,"m":"M04","k":"d","v":0.85},{"p":6,"m":"M04","k":"d","v":0.95},{"p":6,"m":"M04","k":"d","v":-0.6},
{"p":6,"m":"M06","k":"d","v":-0.45},{"p":6,"m":"M06","k":"d","v":-0.6},
{"p":6,"m":"M07","k":"d","v":0.85},{"p":6,"m":"M07","k":"d","v":0.92},{"p":6,"m":"M07","k":"d","v":-0.6},
{"p":6,"m":"M09","k":"d","v":0.86},{"p":6,"m":"M09","k":"d","v":0.88},{"p":6,"m":"M09","k":"d","v":-0.6},
{"p":6,"m":"M15","k":"d","v":1.17},
{"p":6,"m":"M16","k":"d","v":-0.45},{"p":6,"m":"M16","k":"d","v":-0.6},
{"p":6,"m":"M17","k":"d","v":0.85},{"p":6,"m":"M17","k":"d","v":0.92},{"p":6,"m":"M17","k":"d","v":-0.6},
{"p":6,"m":"M19","k":"d","v":0.86},{"p":6,"m":"M19","k":"d","v":0.88},{"p":6,"m":"M19","k":"d","v":-0.6},
{"p":6,"m":"M25","k":"d","v":1.17}
]},
"spacing": -30,
"hconcat": [
 {
  "facet": {"row": {"field": "p", "type": "ordinal", "header": {"title": "Recovered JND difference - Actual JND difference", "labels": false, "titleFontSize": 58, "titleFont": "Liberation Sans", "titleColor": "black", "titleFontWeight": "normal", "titlePadding": 5}}},
  "spacing": 28,
  "spec": {
   "width": 3207,
   "height": 528,
   "layer": [
    {
     "transform": [{"filter": "datum.k === 'b'"}],
     "mark": {"type": "rule", "color": "#333333", "strokeWidth": 3.4, "clip": true},
     "encoding": {
      "x": {"field": "m", "type": "nominal", "scale": {"paddingInner": 0, "paddingOuter": 0.1}, "title": null},
      "y": {"field": "lo", "type": "quantitative", "scale": {"domain": [-0.6125, 1.8625], "nice": false, "zero": false}, "axis": {"values": [-0.5, 0, 0.5, 1, 1.5], "format": ".1f"}, "title": null},
      "y2": {"field": "hi"}
     }
    },
    {
     "transform": [{"filter": "datum.k === 's'"}],
     "mark": {"type": "rule", "color": "#333333", "strokeWidth": 16, "strokeCap": "round", "clip": true},
     "encoding": {
      "x": {"field": "m", "type": "nominal", "title": null},
      "y": {"field": "a", "type": "quantitative", "axis": {"values": [-0.5, 0, 0.5, 1, 1.5], "format": ".1f"}, "title": null},
      "y2": {"field": "b"}
     }
    },
    {
     "transform": [{"filter": "datum.k === 'd'"}],
     "mark": {"type": "point", "filled": true, "shape": "circle", "size": 201, "color": "#333333", "opacity": 1, "strokeWidth": 0, "clip": true},
     "encoding": {
      "x": {"field": "m", "type": "nominal", "title": null},
      "y": {"field": "v", "type": "quantitative", "axis": {"values": [-0.5, 0, 0.5, 1, 1.5], "format": ".1f"}, "title": null}
     }
    },
    {
     "transform": [{"filter": "datum.k === 'b'"}],
     "mark": {"type": "bar", "fill": "white", "stroke": "#333333", "strokeWidth": 3.8, "width": {"band": 0.75}, "clip": true},
     "encoding": {
      "x": {"field": "m", "type": "nominal", "title": null},
      "y": {"field": "q1", "type": "quantitative", "axis": {"values": [-0.5, 0, 0.5, 1, 1.5], "format": ".1f"}, "title": null},
      "y2": {"field": "q3"}
     }
    },
    {
     "transform": [{"filter": "datum.k === 'b'"}],
     "mark": {"type": "tick", "color": "#333333", "size": 95.4, "thickness": 7.5, "opacity": 1, "clip": true},
     "encoding": {
      "x": {"field": "m", "type": "nominal", "title": null},
      "y": {"field": "md", "type": "quantitative", "axis": {"values": [-0.5, 0, 0.5, 1, 1.5], "format": ".1f"}, "title": null}
     }
    },
    {
     "transform": [{"filter": "datum.k === 'b' && datum.m === 'M01'"}],
     "mark": {"type": "rule", "color": "black", "strokeWidth": 4, "strokeDash": [4, 12]},
     "encoding": {"y": {"datum": 0, "type": "quantitative", "axis": {"values": [-0.5, 0, 0.5, 1, 1.5], "format": ".1f"}, "title": null}}
    }
   ]
  }
 },
 {
  "facet": {"row": {"field": "p", "type": "ordinal", "header": {"title": null, "labels": false}}},
  "spacing": 28,
  "spec": {
   "width": 151,
   "height": 528,
   "view": {"fill": "#CCCCCC", "stroke": null},
   "transform": [{"filter": "datum.lab != null"}],
   "mark": {"type": "text", "angle": 90, "lineBreak": "|", "fontSize": 50, "font": "Liberation Sans", "color": "black", "lineHeight": 77, "align": "center", "baseline": "middle", "dy": -37},
   "encoding": {"text": {"field": "lab", "type": "nominal"}}
  }
 }
],
"config": {
 "view": {"stroke": null},
 "font": "Liberation Sans",
 "axis": {"labelFont": "Liberation Sans", "labelFontSize": 47, "labelColor": "black", "tickColor": "black", "domainColor": "black", "tickWidth": 3.3, "domainWidth": 3.3, "tickSize": 12, "labelPadding": 14, "grid": false},
 "axisX": {"labelAngle": 0}
}
}
